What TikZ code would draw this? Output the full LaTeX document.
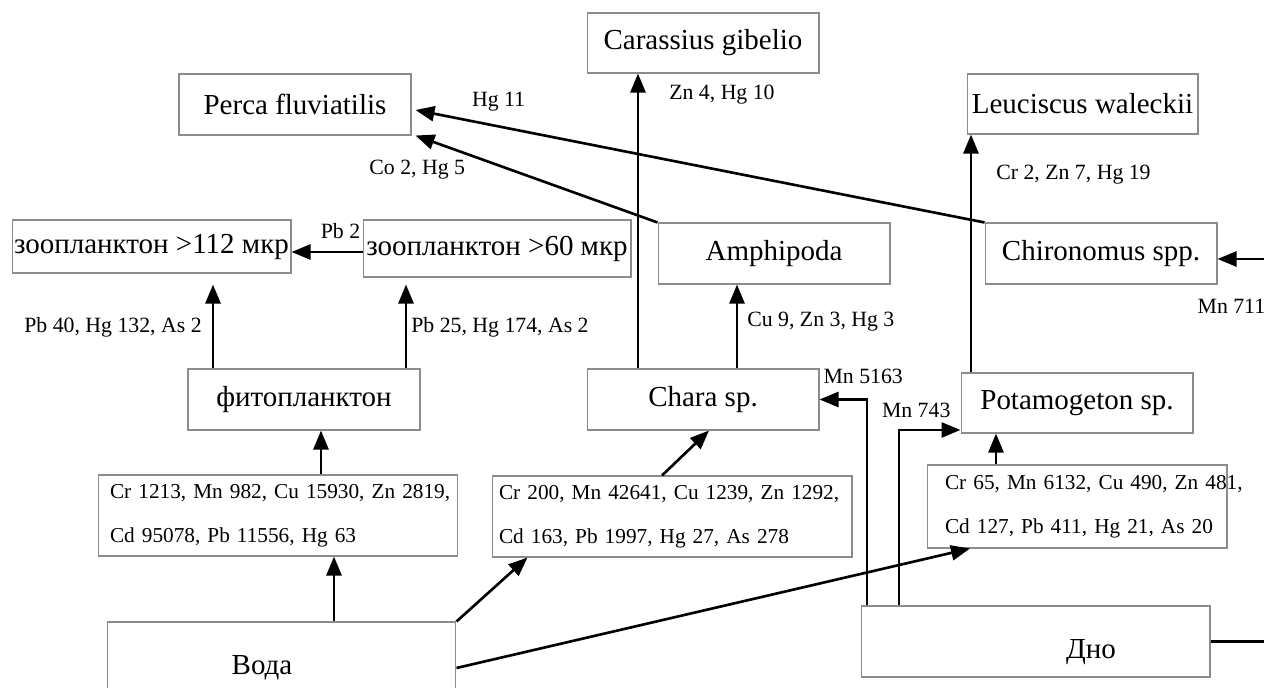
\documentclass[tikz,border=0pt]{standalone}
\usepackage{fontspec}
\setmainfont{Liberation Serif}
\usetikzlibrary{calc, arrows.meta}

\tikzset{
	box/.style = {draw = black!45, line width = 0.6pt, inner sep = 0.04cm, font = \fontsize{16.5}{19}\selectfont},
	databox/.style = {draw = black!45, line width = 0.6pt, align = left, font = \fontsize{12.1}{25}\selectfont},
	lab/.style = {inner sep = 0, font = \fontsize{12.4}{15}\selectfont},
	arr/.style = {line width = 1.5pt, -{Triangle[length = 0.38cm, width = 0.3cm]}},
}

\begin{document}
\begin{tikzpicture}[x = 0.02cm, y = -0.02cm]
			\useasboundingbox (0,0) rectangle (1264,688);
			\clip (0,0) rectangle (1264,688);
			
			% fish and invertebrates
			\node [box, minimum width = 4.64cm, minimum height = 1.2cm] (carassius) at (703,43) {Carassius gibelio};
			\node [box, minimum width = 4.64cm, minimum height = 1.22cm] (perca) at (295,104.5) {Perca fluviatilis};
			\node [box, minimum width = 4.62cm, minimum height = 1.2cm] (leuciscus) at (1082.5,104) {Leuciscus waleckii};
			\node [box, minimum width = 5.58cm, minimum height = 1.06cm] (zoo112) at (151.5,246.5) {зоопланктон >112 мкр};
			\node [box, minimum width = 5.36cm, minimum height = 1.14cm] (zoo60) at (497,248.5) {зоопланктон >60 мкр};
			\node [box, minimum width = 4.64cm, minimum height = 1.22cm] (amphipoda) at (774,253.5) {Amphipoda};
			\node [box, minimum width = 4.64cm, minimum height = 1.22cm] (chironomus) at (1101,253.5) {Chironomus spp.};
			
			% plants
			\node [box, minimum width = 4.64cm, minimum height = 1.22cm] (phyto) at (304,399.5) {фитопланктон};
			\node [box, minimum width = 4.64cm, minimum height = 1.22cm] (chara) at (703,399.5) {Chara sp.};
			\node [box, minimum width = 4.64cm, minimum height = 1.2cm] (potamogeton) at (1077,403) {Potamogeton sp.};
			
			% concentrations
			\node [databox, inner xsep = 0.24cm, text width = 6.72cm, minimum height = 1.62cm] (d1) at (278,515.5) {\mbox{Cr 1213, Mn 982, Cu 15930, Zn 2819,}\\ \mbox{Cd 95078, Pb 11556, Hg 63}};
			\node [databox, inner xsep = 0.14cm, text width = 6.92cm, minimum height = 1.62cm] (d2) at (672,516.5) {\mbox{Cr 200, Mn 42641, Cu 1239, Zn 1292,}\\ \mbox{Cd 163, Pb 1997, Hg 27, As 278}};
			\node [databox, inner xsep = 0.36cm, text width = 5.28cm, minimum height = 1.66cm] (d3) at (1077,506.5) {\mbox{Cr 65, Mn 6132, Cu 490, Zn 481,}\\ \mbox{Cd 127, Pb 411, Hg 21, As 20}};
			
			% sources
			\node [box, minimum width = 6.98cm, minimum height = 1.84cm, label = {[box, draw = none, xshift = -0.39cm]center:Вода}] (voda) at (281.5,668) {};
			\node [box, minimum width = 6.98cm, minimum height = 1.42cm, label = {[box, draw = none, xshift = 1.11cm, yshift = -0.21cm]center:Дно}] (dno) at (1035.5,641.5) {};
			
			\draw [arr] (334,0 |- voda.north) -- (334,0 |- d1.south);
			\draw [arr] (321,0 |- d1.north) -- (321,0 |- phyto.south);
			\draw [arr, shorten > = 0.22cm] (213,0 |- phyto.north) -- (213,0 |- zoo112.south) node [lab, pos = 0.43, left = 0.2cm] {Pb 40, Hg 132, As 2};
			\draw [arr, shorten > = 0.14cm] (406,0 |- phyto.north) -- (406,0 |- zoo60.south) node [lab, pos = 0.45, right = 0.08cm] {Pb 25, Hg 174, As 2};
			\draw [arr] (zoo60.west |- 0,252) -- (zoo112.east |- 0,252) node [lab, pos = 0.31, above = 0.23cm] {Pb 2};
			
			\draw [arr] (voda.north east) -- ($ (d2.south west) + (36,0) $);
			\draw [arr] ($ (d2.north) + (-10,0) $) -- ($ (chara.south) + (6,0) $);
			\draw [arr] (voda.east) -- ($ (d3.south) + (-107,0) $);
			
			\draw [arr] (638,0 |- chara.north) -- (638,0 |- carassius.south) node [lab, pos = 0.93, right = 0.6cm] {Zn 4, Hg 10};
			\draw [arr] (737,0 |- chara.north) -- (737,0 |- amphipoda.south) node [lab, pos = 0.56, right = 0.18cm] {Cu 9, Zn 3, Hg 3};
			\draw [arr] (amphipoda.north west) -- ($ (perca.south east) + (4,0) $) node [lab, pos = 0.79, anchor = north east, yshift = -0.1cm] {Co 2, Hg 5};
			\draw [arr] (chironomus.north west) -- ($ (perca.east) + (4,5.5) $) node [lab, pos = 0.854, above = 0.28cm] {Hg 11};
			\draw [arr] (971,0 |- potamogeton.north) -- (971,0 |- leuciscus.south) node [lab, pos = 0.83, right = 0.48cm] {Cr 2, Zn 7, Hg 19};
			\draw [arr] (996,0 |- d3.north) -- (996,0 |- potamogeton.south);
			
			\draw [arr] (867,0 |- dno.north) |- (chara.east) node [lab, pos = 0.54, above = 0.28cm] {Mn 5163};
			\draw [arr] (899,0 |- dno.north) |- (potamogeton.west |- 0,430) node [lab, pos = 0.64, above = 0.21cm] {Mn 743};
			\draw [arr] (dno.east) -- (1290,0 |- dno.east) |- ($ (chironomus.east) + (0,5.5) $) node [lab, pos = 0.904, below = 0.77cm] {Mn 711};
		\end{tikzpicture}
\end{document}
